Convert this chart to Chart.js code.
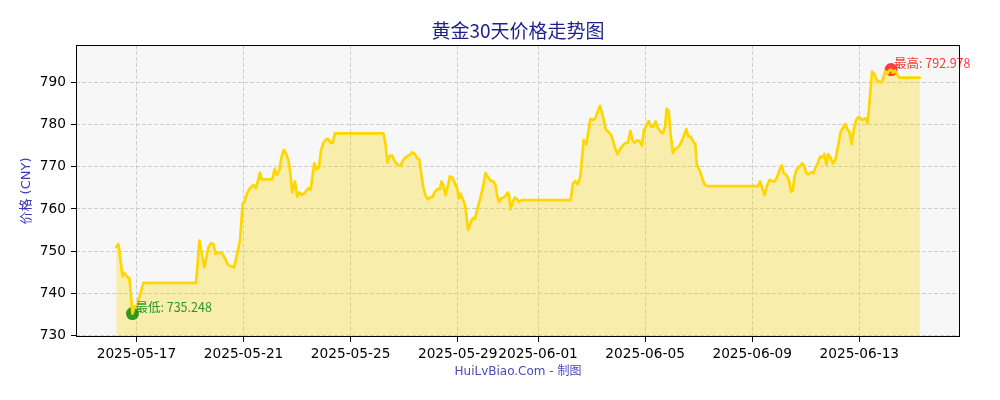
<!DOCTYPE html>
<html>
<head>
<meta charset="utf-8">
<title>黄金30天价格走势图</title>
<script src="https://cdn.jsdelivr.net/npm/chart.js@4.4.1/dist/chart.umd.min.js"></script>
<style>
  html, body { margin: 0; padding: 0; background: #fff; }
  #wrap { width: 1000px; height: 400px; }
</style>
</head>
<body>
<div id="wrap"><canvas id="chart" width="1000" height="400"></canvas></div>
<script>
// days counted from baseDate (00:00)
const baseDate = '2025-05-17';
const dayOffsets = [
  -0.757, -0.672, -0.522, -0.459, -0.358, -0.261, -0.149, -0.067, 0.007, 0.261,
  2.228, 2.351, 2.537, 2.687, 2.787, 2.873, 2.963, 3.060, 3.187, 3.284,
  3.396, 3.496, 3.646, 3.821, 3.869, 3.970, 4.037, 4.119, 4.243, 4.366,
  4.466, 4.616, 4.679, 5.075, 5.164, 5.239, 5.336, 5.425, 5.500, 5.586,
  5.687, 5.746, 5.821, 5.922, 6.007, 6.082, 6.183, 6.295, 6.418, 6.507,
  6.582, 6.642, 6.731, 6.817, 6.892, 6.978, 7.104, 7.179, 7.254, 7.328,
  7.414, 9.224, 9.299, 9.373, 9.466, 9.552, 9.653, 9.776, 9.866, 9.963,
  10.090, 10.213, 10.313, 10.399, 10.474, 10.560, 10.634, 10.709, 10.810, 10.896,
  10.985, 11.060, 11.146, 11.246, 11.332, 11.396, 11.455, 11.545, 11.642, 11.705,
  11.791, 11.892, 11.978, 12.041, 12.104, 12.201, 12.276, 12.328, 12.388, 12.478,
  12.552, 12.638, 12.724, 12.825, 12.948, 13.037, 13.134, 13.224, 13.321, 13.410,
  13.470, 13.545, 13.634, 13.720, 13.795, 13.858, 13.918, 13.970, 14.045, 14.131,
  14.216, 14.291, 14.381, 16.220, 16.306, 16.396, 16.481, 16.582, 16.642, 16.705,
  16.806, 16.881, 16.955, 17.052, 17.142, 17.228, 17.313, 17.425, 17.526, 17.638,
  17.739, 17.836, 17.963, 18.049, 18.149, 18.261, 18.366, 18.448, 18.522, 18.608,
  18.694, 18.795, 18.881, 18.955, 19.045, 19.131, 19.231, 19.317, 19.392, 19.478,
  19.578, 19.664, 19.739, 19.802, 19.877, 19.951, 20.037, 20.127, 20.224, 20.313,
  20.410, 20.537, 20.612, 20.698, 20.784, 20.873, 20.933, 21.034, 21.134, 21.220,
  21.306, 23.209, 23.299, 23.373, 23.459, 23.545, 23.646, 23.746, 23.832, 23.918,
  24.019, 24.104, 24.179, 24.269, 24.366, 24.455, 24.515, 24.578, 24.664, 24.765,
  24.866, 24.951, 25.015, 25.101, 25.201, 25.287, 25.362, 25.448, 25.537, 25.612,
  25.698, 25.772, 25.836, 25.910, 26.007, 26.097, 26.194, 26.295, 26.381, 26.470,
  26.545, 26.631, 26.716, 26.791, 26.881, 26.966, 27.041, 27.127, 27.228, 27.313,
  27.403, 27.478, 27.563, 27.649, 27.750, 27.836, 27.910, 27.974, 28.049, 28.112,
  28.187, 28.254, 28.328, 28.433, 28.496, 29.261
];
const prices = [
  751.0, 751.7, 744.1, 744.9, 744.0, 743.6, 735.248, 737.0, 736.8, 742.5,
  742.5, 752.5, 746.2, 750.9, 751.9, 751.7, 749.3, 749.7, 749.5, 748.6,
  747.0, 746.5, 746.2, 751.1, 752.7, 761.4, 761.6, 763.5, 764.9, 765.7,
  764.9, 768.6, 767.0, 767.0, 769.5, 768.1, 769.2, 772.4, 774.0, 773.2,
  771.2, 768.5, 763.9, 766.5, 762.9, 763.9, 763.3, 763.9, 764.9, 764.5,
  768.1, 770.8, 769.4, 769.8, 773.8, 775.6, 776.6, 776.5, 775.6, 775.7,
  777.9, 777.9, 775.6, 771.0, 772.6, 772.6, 771.2, 770.4, 770.2, 771.6,
  772.4, 772.8, 773.4, 773.0, 772.0, 771.8, 768.5, 765.3, 762.9, 762.3,
  762.8, 762.8, 764.1, 764.7, 764.7, 766.5, 765.7, 763.3, 765.7, 767.7,
  767.5, 766.1, 764.9, 762.5, 763.6, 762.1, 760.9, 758.2, 755.0, 756.6,
  757.8, 757.6, 759.8, 762.1, 765.3, 768.5, 767.5, 766.7, 766.6, 765.7,
  763.3, 761.7, 762.5, 762.8, 763.1, 763.9, 763.3, 759.9, 761.4, 762.7,
  762.3, 761.7, 762.1, 762.1, 766.1, 766.6, 765.8, 767.7, 772.0, 776.3,
  775.3, 778.3, 781.3, 781.1, 781.5, 783.0, 784.4, 781.9, 778.9, 778.2,
  777.4, 775.2, 773.0, 774.0, 774.9, 775.6, 775.8, 778.5, 776.3, 775.7,
  776.2, 776.1, 775.0, 778.7, 779.7, 780.8, 779.5, 779.5, 780.7, 779.1,
  778.3, 777.9, 779.3, 783.7, 783.3, 777.9, 773.2, 774.2, 774.6, 775.3,
  776.7, 778.9, 777.1, 777.1, 776.1, 775.3, 770.4, 769.2, 767.3, 765.8,
  765.4, 765.4, 766.5, 765.0, 763.2, 765.3, 766.9, 766.6, 766.5, 767.3,
  769.2, 770.3, 768.5, 768.1, 766.9, 764.1, 764.3, 767.7, 769.4, 770.0,
  770.8, 770.2, 768.5, 768.2, 768.7, 768.5, 769.8, 770.8, 772.4, 772.2,
  773.0, 770.4, 773.0, 772.4, 770.8, 771.4, 774.4, 778.1, 779.1, 780.1,
  779.0, 778.2, 775.3, 778.7, 781.1, 781.7, 781.5, 781.1, 781.5, 780.3,
  787.0, 792.5, 791.9, 790.5, 790.1, 790.0, 791.3, 792.6, 792.0, 792.7,
  792.978, 792.2, 792.8, 791.6, 791.1, 791.1
];
const tickDates = ['2025-05-17', '2025-05-21', '2025-05-25', '2025-05-29',
                   '2025-06-01', '2025-06-05', '2025-06-09', '2025-06-13'];
const yTicks = [730, 740, 750, 760, 770, 780, 790];
const yMin = 729.7;
const yMax = 798.8;

const DAY = 86400000;
const base = Date.parse(baseDate);
const times = dayOffsets.map(d => base + d * DAY);
const points = times.map((t, i) => ({ x: t, y: prices[i] }));
const minIdx = prices.indexOf(Math.min(...prices));
const maxIdx = prices.indexOf(Math.max(...prices));
const span = times[times.length - 1] - times[0];
const xMin = times[0] - span * 0.05;
const xMax = times[times.length - 1] + span * 0.05;
const tickValues = tickDates.map(s => Date.parse(s));

function fmtDate(v) {
  const d = new Date(v);
  const p = n => String(n).padStart(2, '0');
  return d.getUTCFullYear() + '-' + p(d.getUTCMonth() + 1) + '-' + p(d.getUTCDate());
}

const gridColor = '#cdcdcd';
const tickFont = { family: 'DejaVu Sans', size: 13.7 };
const labelFont = 'DejaVu Sans, "Noto Sans CJK SC"';

// plot background and black frame like matplotlib axes
const plotFrame = {
  id: 'plotFrame',
  beforeDraw(chart) {
    const { ctx, chartArea: a } = chart;
    ctx.save();
    ctx.fillStyle = '#f7f7f7';
    ctx.fillRect(a.left, a.top, a.right - a.left, a.bottom - a.top);
    ctx.restore();
  },
  afterDraw(chart) {
    const { ctx, chartArea: a } = chart;
    ctx.save();
    ctx.strokeStyle = '#000';
    ctx.lineWidth = 1;
    ctx.strokeRect(a.left + 0.5, a.top + 0.5, a.right - a.left - 1, a.bottom - a.top - 1);
    ctx.restore();
  }
};

// min / max text next to the marked points
const extremeLabels = {
  id: 'extremeLabels',
  afterDatasetsDraw(chart) {
    const { ctx, scales: { x, y } } = chart;
    const items = [
      { i: minIdx, text: '最低: ' + prices[minIdx].toFixed(3), color: '#2a962a' },
      { i: maxIdx, text: '最高: ' + prices[maxIdx].toFixed(3), color: '#f23c3c' }
    ];
    ctx.save();
    ctx.font = '12.5px "Noto Sans CJK SC"';
    ctx.textBaseline = 'middle';
    ctx.textAlign = 'left';
    items.forEach(it => {
      const px = x.getPixelForValue(times[it.i]);
      const py = y.getPixelForValue(prices[it.i]);
      ctx.fillStyle = it.color;
      ctx.fillText(it.text, px + 3, py - 6);
    });
    ctx.restore();
  }
};

const ctx = document.getElementById('chart');

new Chart(ctx, {
  type: 'line',
  data: {
    datasets: [
      {
        label: '价格',
        data: points,
        borderColor: '#FFD700',
        borderWidth: 2.7,
        borderJoinStyle: 'round',
        borderCapStyle: 'round',
        backgroundColor: 'rgba(255, 215, 0, 0.3)',
        fill: 'start',
        pointRadius: 0,
        tension: 0,
        order: 0
      },
      {
        label: '最低',
        data: [{ x: times[minIdx], y: prices[minIdx] }],
        showLine: false,
        pointRadius: 6.5,
        pointBorderWidth: 0,
        pointBackgroundColor: 'rgba(0, 128, 0, 0.8)',
        order: 1
      },
      {
        label: '最高',
        data: [{ x: times[maxIdx], y: prices[maxIdx] }],
        showLine: false,
        pointRadius: 6.5,
        pointBorderWidth: 0,
        pointBackgroundColor: 'rgba(255, 0, 0, 0.75)',
        order: 1
      }
    ]
  },
  options: {
    responsive: false,
    devicePixelRatio: 1,
    animation: false,
    layout: { padding: { left: 0, right: 40, top: 0, bottom: 0 } },
    plugins: {
      legend: { display: false },
      tooltip: { enabled: false },
      filler: { drawTime: 'beforeDatasetsDraw' },
      title: {
        display: true,
        text: '黄金30天价格走势图',
        color: '#1e1e8c',
        fullSize: false,
        font: { family: '"Noto Sans CJK SC"', size: 19, weight: 'normal', lineHeight: 1.2 },
        padding: { top: 19, bottom: 3.2 }
      }
    },
    scales: {
      x: {
        type: 'linear',
        min: xMin,
        max: xMax,
        afterBuildTicks: s => { s.ticks = tickValues.map(v => ({ value: v })); },
        afterFit: s => { s.height = 63; },
        ticks: {
          callback: v => fmtDate(v),
          color: '#000',
          font: tickFont,
          padding: 4,
          maxRotation: 0,
          autoSkip: false
        },
        grid: {
          color: gridColor,
          lineWidth: 1,
          tickLength: 5,
          tickColor: '#000',
          tickWidth: 1,
          tickBorderDash: []
        },
        border: { display: false, dash: [4, 2] },
        title: {
          display: true,
          text: 'HuiLvBiao.Com - 制图',
          color: '#4a4ab8',
          font: { family: labelFont, size: 12 },
          padding: { top: 0, bottom: 21 }
        }
      },
      y: {
        type: 'linear',
        min: yMin,
        max: yMax,
        afterBuildTicks: s => { s.ticks = yTicks.map(v => ({ value: v })); },
        afterFit: s => { s.width = 76; },
        ticks: {
          color: '#000',
          font: tickFont,
          padding: 5
        },
        grid: {
          color: gridColor,
          lineWidth: 1,
          tickLength: 5,
          tickColor: '#000',
          tickWidth: 1,
          tickBorderDash: []
        },
        border: { display: false, dash: [4, 2] },
        title: {
          display: true,
          text: '价格 (CNY)',
          color: '#3a3ab5',
          font: { family: labelFont, size: 13 },
          padding: { top: 18.5, bottom: 0 }
        }
      }
    }
  },
  plugins: [plotFrame, extremeLabels]
});
</script>
</body>
</html>
